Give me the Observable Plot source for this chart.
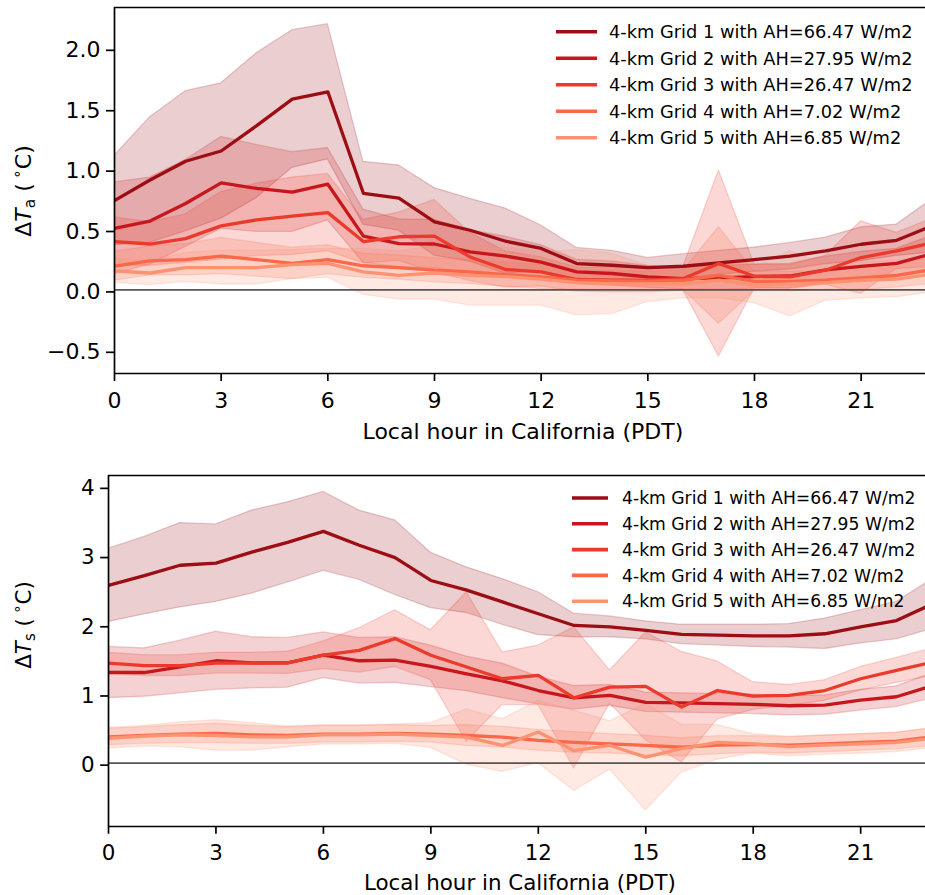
<!DOCTYPE html>
<html>
<head>
<meta charset="utf-8">
<script src="https://cdn.jsdelivr.net/npm/d3@7"></script>
<script src="https://cdn.jsdelivr.net/npm/@observablehq/plot@0.6"></script>
<style>
  html, body { margin: 0; padding: 0; background: #fff; overflow: hidden; }
  #chart svg { display: block; }
</style>
</head>
<body>
<div id="chart"></div>
<script>
// ---------- data ----------
const hours = [0,1,2,3,4,5,6,7,8,9,10,11,12,13,14,15,16,17,18,19,20,21,22,23];
const grids = ["Grid 1","Grid 2","Grid 3","Grid 4","Grid 5"];
const legendLabels = [
  "4-km Grid 1 with AH=66.47 W/m2",
  "4-km Grid 2 with AH=27.95 W/m2",
  "4-km Grid 3 with AH=26.47 W/m2",
  "4-km Grid 4 with AH=7.02 W/m2",
  "4-km Grid 5 with AH=6.85 W/m2"
];
const colors = ["#9c0d14","#c8171c","#eb3a2b","#fa6849","#fc9272"];
const xTicks = [0,3,6,9,12,15,18,21];
const xLabel = "Local hour in California (PDT)";

// Panel a: ΔTa mean and spread (°C)
const taMean1 = [0.74,0.91,1.065,1.15,1.36,1.58,1.64,0.80,0.76,0.563,0.494,0.403,0.343,0.218,0.204,0.185,0.196,0.224,0.251,0.279,0.323,0.378,0.411,0.53];
const taSd1   = [0.37,0.52,0.58,0.56,0.60,0.57,0.56,0.26,0.27,0.28,0.26,0.27,0.19,0.13,0.12,0.08,0.10,0.10,0.10,0.11,0.11,0.14,0.13,0.22];
const taMean2 = [0.51,0.57,0.715,0.886,0.84,0.81,0.875,0.445,0.384,0.38,0.315,0.28,0.23,0.149,0.136,0.108,0.094,0.10,0.11,0.115,0.165,0.195,0.22,0.30];
const taSd2   = [0.38,0.36,0.36,0.38,0.36,0.33,0.30,0.22,0.20,0.20,0.18,0.16,0.14,0.10,0.10,0.09,0.09,0.10,0.10,0.10,0.11,0.12,0.12,0.15];
const taMean3 = [0.40,0.38,0.425,0.53,0.58,0.61,0.64,0.40,0.44,0.445,0.273,0.169,0.149,0.086,0.08,0.08,0.094,0.218,0.113,0.108,0.163,0.268,0.323,0.39];
const taSd3   = [0.20,0.18,0.20,0.28,0.30,0.32,0.32,0.18,0.20,0.30,0.20,0.15,0.12,0.10,0.10,0.10,0.10,0.77,0.10,0.10,0.12,0.30,0.15,0.20];
const taMean4 = [0.196,0.24,0.25,0.28,0.25,0.22,0.25,0.20,0.185,0.163,0.149,0.127,0.108,0.08,0.075,0.072,0.08,0.12,0.07,0.07,0.08,0.10,0.12,0.17];
const taSd4   = [0.12,0.12,0.13,0.15,0.14,0.13,0.12,0.10,0.10,0.10,0.10,0.10,0.10,0.08,0.08,0.08,0.08,0.40,0.08,0.08,0.08,0.10,0.10,0.12];
const taMean5 = [0.157,0.14,0.185,0.185,0.185,0.21,0.22,0.15,0.12,0.14,0.12,0.11,0.09,0.06,0.05,0.05,0.05,0.08,0.04,0.05,0.06,0.08,0.09,0.13];
const taSd5   = [0.10,0.10,0.12,0.14,0.14,0.12,0.12,0.19,0.20,0.22,0.25,0.24,0.22,0.27,0.25,0.15,0.12,0.15,0.15,0.27,0.15,0.15,0.15,0.15];
const taTicks = [-0.5,0,0.5,1,1.5,2];

// Panel b: ΔTs mean and spread (°C)
const tsMean1 = [2.57,2.71,2.86,2.89,3.05,3.19,3.35,3.15,2.97,2.64,2.50,2.33,2.16,1.99,1.97,1.92,1.86,1.85,1.84,1.84,1.87,1.97,2.06,2.30];
const tsSd1   = [0.53,0.56,0.61,0.56,0.60,0.58,0.57,0.50,0.54,0.40,0.33,0.33,0.31,0.17,0.15,0.13,0.14,0.15,0.16,0.17,0.22,0.24,0.27,0.36];
const tsMean2 = [1.31,1.31,1.39,1.48,1.45,1.45,1.56,1.48,1.49,1.40,1.29,1.19,1.05,0.945,0.98,0.88,0.87,0.86,0.85,0.83,0.84,0.91,0.96,1.12];
const tsSd2   = [0.37,0.35,0.38,0.42,0.37,0.36,0.33,0.33,0.33,0.30,0.25,0.25,0.20,0.17,0.15,0.14,0.14,0.14,0.14,0.14,0.14,0.15,0.15,0.18];
const tsMean3 = [1.445,1.41,1.41,1.445,1.445,1.45,1.56,1.63,1.80,1.56,1.39,1.22,1.27,0.945,1.10,1.11,0.81,1.05,0.97,0.98,1.05,1.22,1.34,1.46];
const tsSd3   = [0.15,0.15,0.15,0.15,0.15,0.16,0.20,0.32,0.41,0.36,1.08,0.38,0.43,1.02,0.24,0.78,0.80,0.42,0.20,0.15,0.15,0.17,0.18,0.20];
const tsMean4 = [0.38,0.40,0.42,0.43,0.41,0.40,0.42,0.42,0.43,0.42,0.40,0.376,0.33,0.30,0.28,0.256,0.23,0.26,0.27,0.26,0.28,0.30,0.32,0.38];
const tsSd4   = [0.12,0.12,0.13,0.14,0.13,0.12,0.12,0.12,0.12,0.12,0.15,0.15,0.15,0.15,0.14,0.14,0.13,0.13,0.12,0.12,0.12,0.12,0.12,0.13];
const tsMean5 = [0.36,0.39,0.41,0.40,0.38,0.38,0.41,0.41,0.42,0.40,0.376,0.256,0.45,0.18,0.256,0.087,0.21,0.30,0.28,0.24,0.26,0.28,0.30,0.36];
const tsSd5   = [0.15,0.15,0.18,0.22,0.20,0.15,0.14,0.14,0.14,0.18,0.40,0.38,0.45,0.58,0.35,0.77,0.35,0.25,0.14,0.14,0.14,0.14,0.14,0.14];
const tsTicks = [0,1,2,3,4];

// ---------- helpers ----------
function buildRows(means, sds) {
  const rows = [];
  grids.forEach((g, i) => hours.forEach((h, j) => rows.push({grid: g, hour: h, mean: means[i][j], sd: sds[i][j]})));
  return rows;
}

const FONT = "DejaVu Sans";
const xMax = 22.81;

function panel(o) {
  const svg = Plot.plot({
    width: 925,
    height: o.height,
    marginLeft: o.marginLeft,
    marginRight: 0,
    marginTop: o.marginTop,
    marginBottom: o.marginBottom,
    style: {fontFamily: FONT, fontSize: o.fs + "px", background: "#fff", color: "#000"},
    x: {domain: [0, xMax]},
    y: {domain: o.yDomain},
    color: {domain: grids, range: colors},
    marks: [
      Plot.areaY(o.rows, {x: "hour", y1: d => d.mean - d.sd, y2: d => d.mean + d.sd, z: "grid",
        fill: "grid", fillOpacity: 0.2, stroke: "grid", strokeOpacity: 0.2, strokeWidth: 1.3, clip: true}),
      Plot.ruleY([0], {stroke: "#555", strokeWidth: 1.8}),
      Plot.lineY(o.rows, {x: "hour", y: "mean", z: "grid", stroke: "grid", strokeWidth: 3.3, clip: true}),
      Plot.axisX({ticks: xTicks, tickSize: o.tick, tickPadding: o.xPad, fontSize: o.fs, strokeWidth: 1.7, label: null, tickFormat: d3.format("d")}),
      Plot.axisY({ticks: o.yTicks, tickSize: o.tick, tickPadding: 6, fontSize: o.fs, strokeWidth: 1.7, label: null, tickFormat: o.yFormat, dy: 2}),
      Plot.ruleX([0], {stroke: "#000", strokeWidth: 1.7}),
      Plot.ruleY([o.yDomain[0]], {stroke: "#000", strokeWidth: 1.7}),
      Plot.ruleY([o.yDomain[1]], {stroke: "#000", strokeWidth: 1.7})
    ]
  });

  const s = d3.select(svg);
  // enforce tick label size on every text Plot produced (tick labels only)
  s.selectAll("g").filter(function () { return this.querySelector("text"); })
    .attr("font-size", o.fs + "px");
  s.selectAll("text").attr("font-size", o.fs + "px").style("font-size", o.fs + "px").style("font-family", FONT);

  const xs = svg.scale("x");
  // x label
  s.append("text")
    .attr("x", xs.apply(11.5))
    .attr("y", o.xLabelY)
    .attr("text-anchor", "middle")
    .attr("font-family", FONT)
    .attr("font-size", o.fs)
    .attr("fill", "#000")
    .text(xLabel);
  // y label with math-like formatting
  const t = s.append("text")
    .attr("transform", `translate(${o.yLabelX},${o.yLabelY}) rotate(-90)`)
    .attr("text-anchor", "middle")
    .attr("font-family", FONT)
    .attr("font-size", o.fs)
    .attr("fill", "#000");
  t.append("tspan").text("Δ");
  t.append("tspan").attr("font-style", "italic").text("T");
  t.append("tspan").attr("font-size", o.fs * 0.7).attr("dy", o.fs * 0.2).text(o.sub);
  t.append("tspan").attr("dy", -o.fs * 0.2).text(" (\u2009");
  t.append("tspan").attr("font-size", o.fs * 0.7).attr("dy", -o.fs * 0.4).text("∘");
  t.append("tspan").attr("dy", o.fs * 0.4).text("C)");
  // legend
  const g = s.append("g").attr("text-anchor", "start");
  legendLabels.forEach((lab, i) => {
    const y = o.legY + i * o.legStep;
    g.append("line").attr("x1", o.legX0).attr("x2", o.legX1).attr("y1", y).attr("y2", y)
      .attr("stroke", colors[i]).attr("stroke-width", 3.6);
    g.append("text").attr("x", o.legTx).attr("y", y).attr("dy", "0.36em")
      .attr("text-anchor", "start")
      .attr("font-family", FONT).attr("font-size", o.legFs).attr("fill", "#000").text(lab);
  });
  return svg;
}

const chart = document.getElementById("chart");
chart.appendChild(panel({
  rows: buildRows([taMean1, taMean2, taMean3, taMean4, taMean5], [taSd1, taSd2, taSd3, taSd4, taSd5]),
  height: 460, marginLeft: 114, marginTop: 7, marginBottom: 87,
  yDomain: [-0.692, 2.338], yTicks: taTicks, yFormat: d3.format(".1f"),
  fs: 22, tick: 8, xPad: 10.5, xLabelY: 439,
  yLabelX: 31, yLabelY: 191, sub: "a",
  legX0: 556, legX1: 597, legTx: 609, legY: 31.7, legStep: 26.5, legFs: 17.8
}));
chart.appendChild(panel({
  rows: buildRows([tsMean1, tsMean2, tsMean3, tsMean4, tsMean5], [tsSd1, tsSd2, tsSd3, tsSd4, tsSd5]),
  height: 435, marginLeft: 108, marginTop: 15, marginBottom: 69,
  yDomain: [-0.915, 4.157], yTicks: tsTicks, yFormat: d3.format("d"),
  fs: 21.4, tick: 7.8, xPad: 10, xLabelY: 430,
  yLabelX: 31, yLabelY: 165, sub: "s",
  legX0: 572, legX1: 608, legTx: 622, legY: 38, legStep: 25.8, legFs: 17.2
}));
</script>
</body>
</html>
